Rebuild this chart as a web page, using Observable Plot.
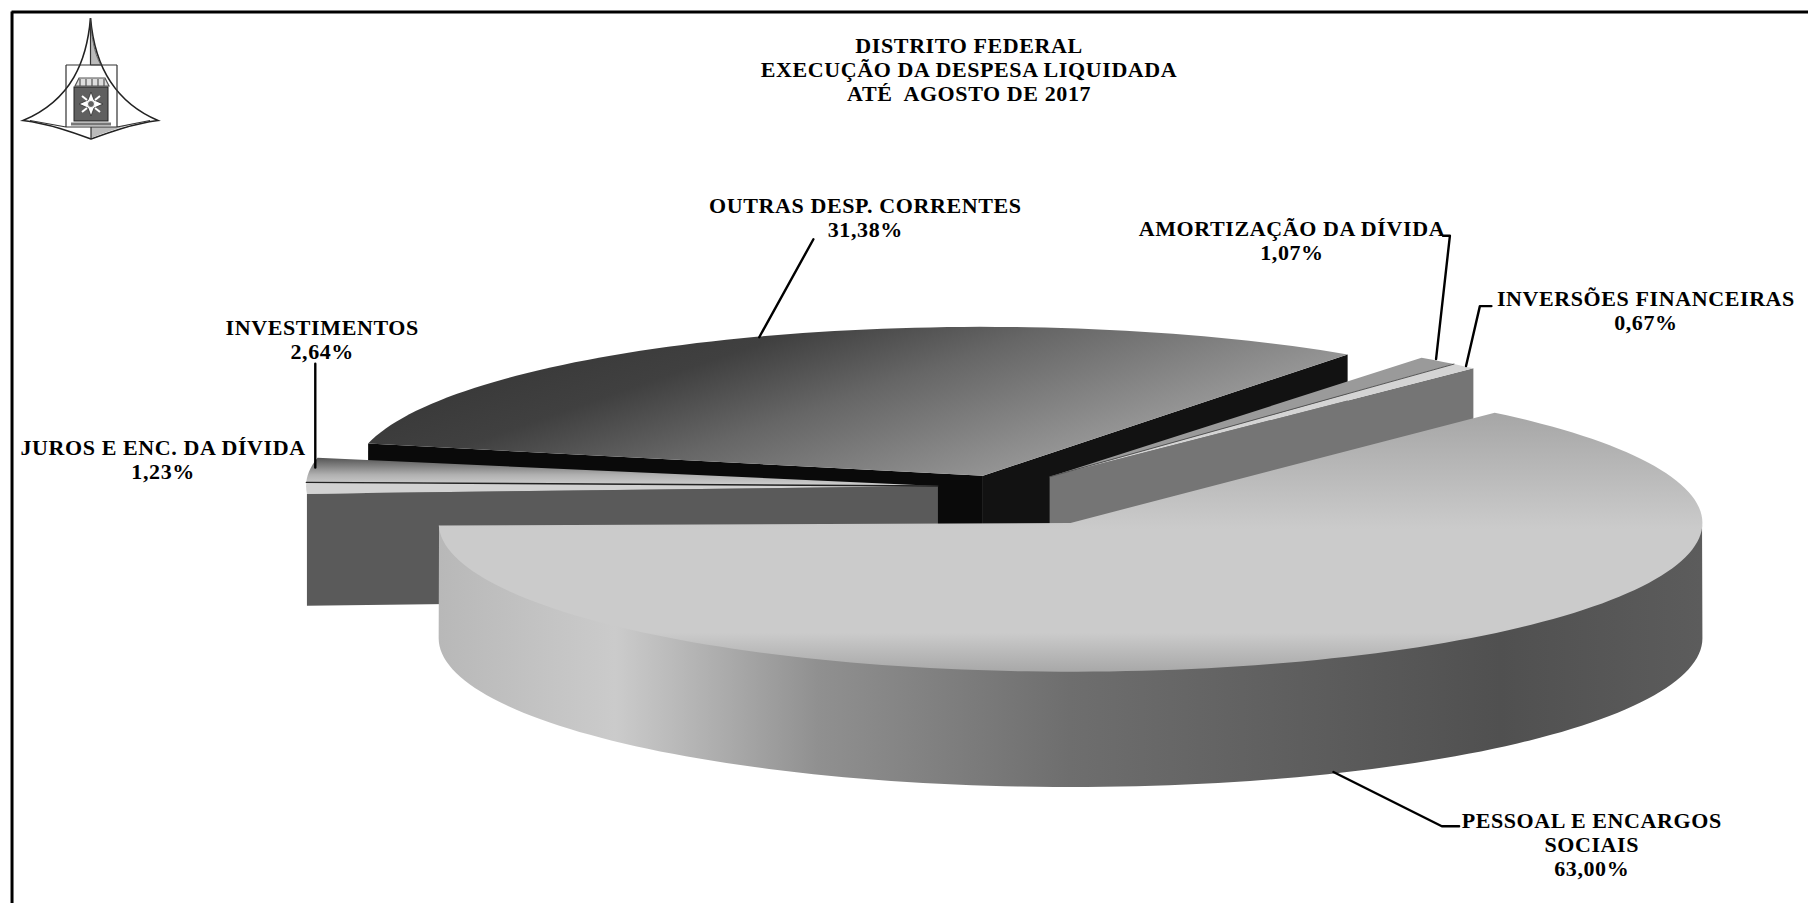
<!DOCTYPE html>
<html lang="pt">
<head>
<meta charset="utf-8">
<script src="https://cdn.jsdelivr.net/npm/d3@7"></script>
<script src="https://cdn.jsdelivr.net/npm/@observablehq/plot@0.6"></script>
<style>
html,body{margin:0;padding:0;background:#fff;overflow:hidden}
#wrap{position:relative;width:1808px;height:903px}
#logo{position:absolute;left:0;top:0}
</style>
</head>
<body>
<svg width="0" height="0" style="position:absolute">
<defs>
<linearGradient id="gOutras" x1="0" y1="0" x2="0.99" y2="0.435">
<stop offset="0" stop-color="#303030"/><stop offset="0.38" stop-color="#404040"/><stop offset="0.59" stop-color="#666666"/><stop offset="0.88" stop-color="#909090"/><stop offset="1" stop-color="#a0a0a0"/>
</linearGradient>
<linearGradient id="gMainTop" x1="0" y1="0" x2="0" y2="1">
<stop offset="0" stop-color="#a6a6a6"/><stop offset="0.45" stop-color="#cbcbcb"/><stop offset="0.85" stop-color="#cbcbcb"/><stop offset="1" stop-color="#a8a8a8"/>
</linearGradient>
<linearGradient id="gMainWall" x1="0" y1="0" x2="1" y2="0">
<stop offset="0" stop-color="#b8b8b8"/><stop offset="0.14" stop-color="#cbcbcb"/><stop offset="0.3" stop-color="#909090"/><stop offset="0.5" stop-color="#6e6e6e"/><stop offset="0.84" stop-color="#505050"/><stop offset="1" stop-color="#5c5c5c"/>
</linearGradient>
<linearGradient id="gInvest" x1="0" y1="0" x2="0" y2="1">
<stop offset="0" stop-color="#555555"/><stop offset="0.6" stop-color="#b0b0b0"/><stop offset="1" stop-color="#d0d0d0"/>
</linearGradient>
</defs>
</svg>
<div id="wrap"></div>
<script>
// Data
const categories = ["JUROS E ENC. DA DÍVIDA","INVESTIMENTOS","OUTRAS DESP. CORRENTES","AMORTIZAÇÃO DA DÍVIDA","INVERSÕES FINANCEIRAS","PESSOAL E ENCARGOS SOCIAIS"];
const shares = [1.23, 2.64, 31.38, 1.07, 0.67, 63.00];
const titleLines = ["DISTRITO FEDERAL","EXECUÇÃO DA DESPESA LIQUIDADA","ATÉ  AGOSTO DE 2017"];

// Layout of the exploded 3-D pie (picture units 1568 x 783)
const centers = [[813,421],[813,421],[852,412],[910,413],[910,413],[928,453]];
const radiiX = [548,548,546,537,537,548];
const radiiY = [129,129,129,129,129,129];
const turns = [3,3,1.5,0,0,1];
const depth = 100;
const leftDepth = 97;
const topFill = ["#d2d2d2","url(#gInvest)","url(#gOutras)","#9a9a9a","#d4d4d4","url(#gMainTop)"];

let acc = 0;
const slices = shares.map((v,i)=>{
  const start = acc/100*360; acc += v; const end = acc/100*360;
  return {i, name:categories[i], start:start-turns[i], end:end-turns[i], c:centers[i], rx:radiiX[i], ry:radiiY[i]};
});
const rad = d=>d*Math.PI/180;
// angle runs clockwise from the west point of the ellipse
const pt = (s,a,dz=0)=>[s.c[0]-s.rx*Math.cos(rad(a)), s.c[1]-s.ry*Math.sin(rad(a))+dz];
const arc = (s,a0,a1,dz=0)=>{
  const n=Math.max(2,Math.ceil(Math.abs(a1-a0)/1.5)); 
  return d3.range(n+1).map(k=>pt(s,a0+(a1-a0)*k/n,dz));
};
const topFace = s=>[[s.c[0],s.c[1]],...arc(s,s.start,s.end),[s.c[0],s.c[1]]];
const radialWall = (s,a,dz=depth)=>{const p=pt(s,a),q=pt(s,a,dz);return [s.c,p,q,[s.c[0],s.c[1]+dz],s.c];};
const poly = (pts,opt)=>Plot.line(pts,{x:d=>d[0],y:d=>d[1],curve:"linear",stroke:"none",...opt});

const [juros,invest,outras,amort,invers,pessoal] = slices;
const pct = v=>v.toFixed(2).replace(".",",")+"%";

const labels = [
  {x:840,y:39,t:titleLines[0]},{x:840,y:60,t:titleLines[1]},{x:840,y:81,t:titleLines[2]},
  {x:750,y:178,t:"OUTRAS DESP. CORRENTES"},{x:750,y:199,t:pct(shares[2])},
  {x:1120,y:198,t:"AMORTIZAÇÃO DA DÍVIDA"},{x:1120,y:219,t:pct(shares[3])},
  {x:1427,y:259,t:"INVERSÕES FINANCEIRAS"},{x:1427,y:280,t:pct(shares[4])},
  {x:279,y:284,t:"INVESTIMENTOS"},{x:279,y:305,t:pct(shares[1])},
  {x:141,y:388,t:"JUROS E ENC. DA DÍVIDA"},{x:141,y:409,t:pct(shares[0])},
  {x:1380,y:711,t:"PESSOAL E ENCARGOS"},{x:1380,y:732,t:"SOCIAIS"},{x:1380,y:753,t:pct(shares[5])}
];
const leaders = [
  [[705,207],[658,292]],
  [[1251,204],[1257,204],[1245,311]],
  [[1293,265],[1283,265],[1271,317]],
  [[273,315],[273,405]],
  [[1156,669],[1250,716],[1265,716]]
];

const plot = Plot.plot({
  width:1808,height:903,margin:0,
  x:{domain:[0,1568],range:[0,1808],axis:null},
  y:{domain:[0,783],range:[0,903],axis:null},
  style:{background:"#fff",letterSpacing:"0.6px"},
  marks:[
    // Outras
    poly(radialWall(outras,outras.start),{fill:"#0a0a0a"}),
    poly(radialWall(outras,outras.end),{fill:"#121212"}),
    poly(topFace(outras),{fill:topFill[2]}),
    // Amortização + Inversões
    poly(radialWall(invers,invers.end),{fill:"#757575"}),
    poly([[amort.c[0],amort.c[1]],[amort.c[0],amort.c[1]+depth],[invers.c[0]+15,invers.c[1]+depth],[amort.c[0]+15,amort.c[1]]],{fill:"#757575"}),
    poly(topFace(amort),{fill:topFill[3]}),
    poly(topFace(invers),{fill:topFill[4]}),
    Plot.line([amort.c,pt(amort,amort.end)],{x:d=>d[0],y:d=>d[1],stroke:"#555",strokeWidth:1}),
    // Juros + Investimentos
    poly(radialWall(juros,juros.start,leftDepth),{fill:"#5a5a5a"}),
    poly(topFace(juros),{fill:topFill[0]}),
    poly(topFace(invest),{fill:topFill[1]}),
    Plot.line([juros.c,pt(juros,juros.end)],{x:d=>d[0],y:d=>d[1],stroke:"#222",strokeWidth:1.3}),
    // Pessoal
    poly([...arc(pessoal,182,358,-3),...arc(pessoal,360,180,depth)],{fill:"url(#gMainWall)"}),
    poly(topFace(pessoal),{fill:topFill[5]}),
    // Leaders
    ...leaders.map(l=>Plot.line(l,{x:d=>d[0],y:d=>d[1],stroke:"#000",strokeWidth:2.4})),
    // Text
    Plot.text(labels,{x:"x",y:"y",text:"t",fontFamily:"Liberation Serif",fontWeight:"bold",fontSize:22,fill:"#000",textAnchor:"middle",lineAnchor:"middle"}),
    // Frame
    Plot.ruleY([10],{x1:10,x2:1568,stroke:"#000",strokeWidth:3}),
    Plot.ruleX([10],{y1:10,y2:783,stroke:"#000",strokeWidth:3})
  ]
});
const wrap=document.getElementById("wrap");
wrap.appendChild(plot);
wrap.insertAdjacentHTML("beforeend",`<svg id="logo" width="180" height="150" viewBox="0 0 180 150" aria-hidden="true">
<path d="M90.500 18 C87 60 72 100 23 120.500 C50 124 72 132 91 139 C110 132 132 124 158 120.500 C110 100 94 60 90.500 18Z" fill="#fff" stroke="#222" stroke-width="1.600"/>
<path d="M90.500 22 C93 50 98 60 101 65 L90.500 65Z" fill="#bbb" stroke="#444" stroke-width=".8"/>
<path d="M91 127 L117 127 L140 122 C120 127 105 133 91 138Z" fill="#bbb"/>
<path d="M90.500 18 L90.500 65 M66 65 L117 65 M66 65 L66 127 M117 65 L117 127 M30 120.500 L66 127 M117 127 L150 120.500 M66 127 L117 127 M91 127 L91 139" stroke="#333" stroke-width="1.200" fill="none"/>
<path d="M75 86 L79 78 L105 78 L109 86Z" fill="#ddd" stroke="#555" stroke-width="1.200"/>
<path d="M80 86V79M86 86V79M92 86V79M98 86V79M104 86V79" stroke="#555" stroke-width="1.200"/>
<rect x="74" y="87" width="34" height="34" fill="#606060" stroke="#222"/>
<path d="M91 92 L94 100 L103 104 L94 108 L91 116 L88 108 L79 104 L88 100Z" fill="#fff" stroke="#222" stroke-width=".7"/>
<path d="M82 96 L87 100 M100 96 L95 100 M82 112 L87 108 M100 112 L95 108" stroke="#fff" stroke-width="2"/>
<circle cx="91" cy="104" r="3.500" fill="#606060" stroke="#fff"/>
<rect x="71" y="122.500" width="40" height="3" fill="#777"/>
</svg>`);
</script>
</body>
</html>
